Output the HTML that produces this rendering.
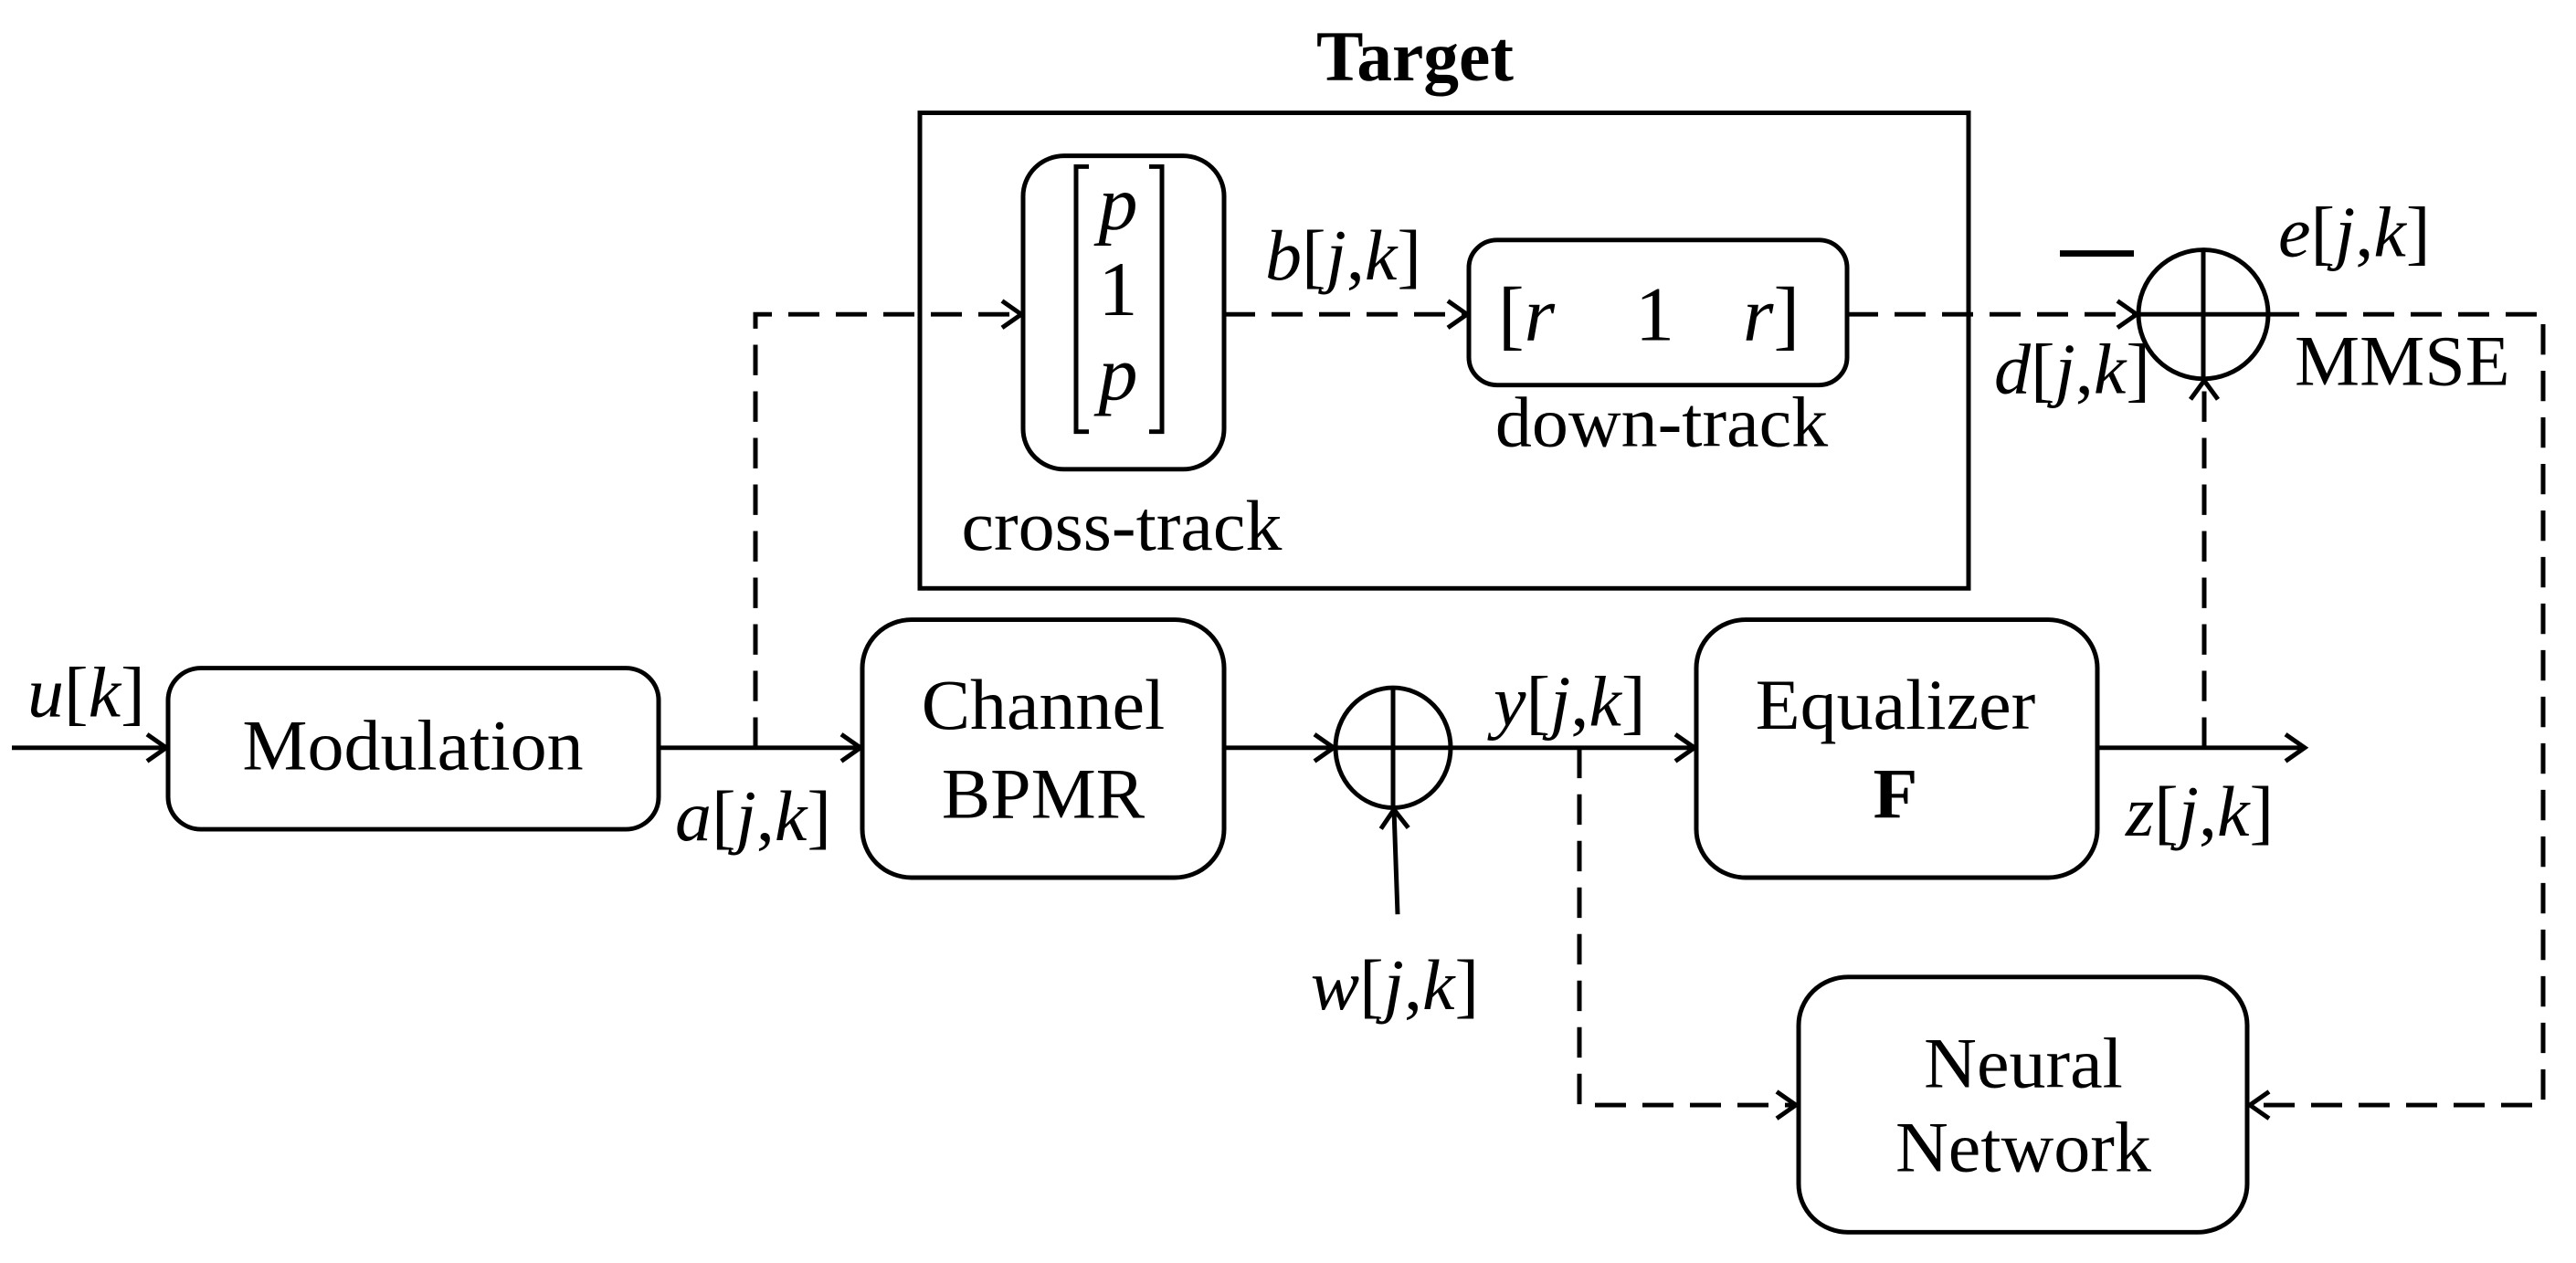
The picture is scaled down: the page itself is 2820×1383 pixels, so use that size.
<!DOCTYPE html>
<html><head><meta charset="utf-8"><style>
html,body{margin:0;padding:0;background:#fff;}
svg{display:block;}
text{font-family:"Liberation Serif",serif;fill:#000;}
.i{font-style:italic;}
</style></head><body>
<svg width="2820" height="1383" viewBox="0 0 2820 1383" xmlns="http://www.w3.org/2000/svg">
<defs>
<marker id="a" markerWidth="40" markerHeight="40" refX="27" refY="20" orient="auto" markerUnits="userSpaceOnUse">
<path d="M6,5 L27,20 L6,35" fill="none" stroke="#000" stroke-width="5"/>
</marker>
</defs>
<g transform="scale(1,0.9806)">
<g fill="none" stroke="#000" stroke-width="5">
<rect x="1007" y="126" width="1148" height="531"/>
<rect x="1120" y="174" width="220" height="350" rx="45"/>
<rect x="1608" y="268" width="414" height="162" rx="31"/>
<rect x="184" y="746" width="537" height="180" rx="36"/>
<rect x="944" y="692" width="396" height="288" rx="54"/>
<rect x="1857" y="692" width="439" height="288" rx="54"/>
<rect x="1969" y="1091" width="491" height="285" rx="54"/>
<ellipse cx="1525" cy="835" rx="63" ry="67"/>
<line x1="1462" y1="835" x2="1588" y2="835"/>
<line x1="1525" y1="768" x2="1525" y2="902"/>
<ellipse cx="2412" cy="351" rx="71" ry="72"/>
<line x1="2341" y1="351" x2="2483" y2="351"/>
<line x1="2412" y1="279" x2="2412" y2="423"/>
<line x1="2255" y1="283" x2="2336" y2="283" stroke-width="7"/>
<line x1="13" y1="835" x2="182" y2="835" marker-end="url(#a)"/>
<line x1="721" y1="835" x2="942" y2="835" marker-end="url(#a)"/>
<line x1="1340" y1="835" x2="1460" y2="835" marker-end="url(#a)"/>
<line x1="1530" y1="1021" x2="1526" y2="904" marker-end="url(#a)"/>
<line x1="1588" y1="835" x2="1855" y2="835" marker-end="url(#a)"/>
<line x1="2296" y1="835" x2="2523" y2="835" marker-end="url(#a)"/>
</g>
<g fill="none" stroke="#000" stroke-width="5" stroke-dasharray="34,18">
<polyline points="827,835 827,351 1118,351" marker-end="url(#a)"/>
<line x1="1340" y1="351" x2="1606" y2="351" marker-end="url(#a)"/>
<line x1="2022" y1="351" x2="2339" y2="351" marker-end="url(#a)"/>
<line x1="2413" y1="835" x2="2413" y2="425" marker-end="url(#a)"/>
<polyline points="1729,835 1729,1234 1966,1234" marker-end="url(#a)"/>
<polyline points="2483,351 2784,351 2784,1234 2463,1234" marker-end="url(#a)"/>
</g>
<g font-size="80">
<text x="1441" y="90" font-weight="bold" textLength="216" lengthAdjust="spacingAndGlyphs">Target</text>
<text x="452" y="859" text-anchor="middle">Modulation</text>
<text x="1142" y="814" text-anchor="middle">Channel</text>
<text x="1142" y="913" text-anchor="middle">BPMR</text>
<text x="2075" y="814" text-anchor="middle">Equalizer</text>
<text x="2075" y="913" text-anchor="middle" font-weight="bold">F</text>
<text x="2215" y="1214" text-anchor="middle">Neural</text>
<text x="2215" y="1308" text-anchor="middle">Network</text>
<text x="1228" y="614" text-anchor="middle">cross-track</text>
<text x="1819" y="498" text-anchor="middle">down-track</text>
<text x="2512" y="430">MMSE</text>
<g font-size="86">
<text x="1224" y="256" text-anchor="middle" class="i">p</text>
<text x="1224" y="352" text-anchor="middle">1</text>
<text x="1224" y="446" text-anchor="middle" class="i">p</text>
<text x="1640" y="380">[<tspan class="i">r</tspan></text>
<text x="1790" y="380">1</text>
<text x="1908" y="380"><tspan class="i">r</tspan>]</text>
</g>
<text x="30" y="800"><tspan class="i">u</tspan>[<tspan class="i">k</tspan>]</text>
<text x="739" y="938"><tspan class="i">a</tspan>[<tspan class="i">j</tspan>,<tspan class="i">k</tspan>]</text>
<text x="1385" y="312"><tspan class="i">b</tspan>[<tspan class="i">j</tspan>,<tspan class="i">k</tspan>]</text>
<text x="1635" y="810"><tspan class="i">y</tspan>[<tspan class="i">j</tspan>,<tspan class="i">k</tspan>]</text>
<text x="1527" y="1127" text-anchor="middle"><tspan class="i">w</tspan>[<tspan class="i">j</tspan>,<tspan class="i">k</tspan>]</text>
<text x="2327" y="933"><tspan class="i">z</tspan>[<tspan class="i">j</tspan>,<tspan class="i">k</tspan>]</text>
<text x="2183" y="439"><tspan class="i">d</tspan>[<tspan class="i">j</tspan>,<tspan class="i">k</tspan>]</text>
<text x="2494" y="286"><tspan class="i">e</tspan>[<tspan class="i">j</tspan>,<tspan class="i">k</tspan>]</text>
</g>
<g fill="none" stroke="#000" stroke-width="5">
<polyline points="1192,186 1178,186 1178,482 1192,482"/>
<polyline points="1258,186 1272,186 1272,482 1258,482"/>
</g>
</g>
</svg>
</body></html>
